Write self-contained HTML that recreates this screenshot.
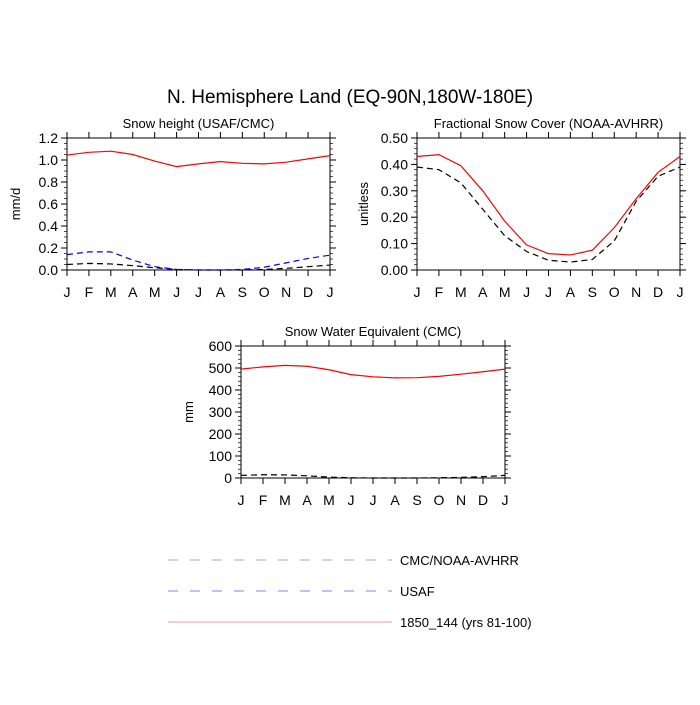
<!DOCTYPE html>
<html><head><meta charset="utf-8"><style>
body{margin:0;background:#fff}
text{font-family:"Liberation Sans",sans-serif;fill:#000}
</style></head><body>
<svg id="s" width="700" height="700" xmlns="http://www.w3.org/2000/svg">
<rect width="700" height="700" fill="#fff"/>
<text x="350" y="103" font-size="19" text-anchor="middle">N. Hemisphere Land (EQ-90N,180W-180E)</text>
<g>
<line x1="168" y1="560" x2="392" y2="560" stroke="#aaa" stroke-dasharray="10,12"/>
<text x="400" y="565" font-size="13">CMC/NOAA-AVHRR</text>
<line x1="168" y1="591" x2="392" y2="591" stroke="#8080ff" stroke-dasharray="10,12"/>
<text x="400" y="596" font-size="13">USAF</text>
<line x1="168" y1="622" x2="392" y2="622" stroke="#ffaaaa" stroke-width="1.2"/>
<text x="400" y="627" font-size="13">1850_144 (yrs 81-100)</text>
</g>
</svg>
<script>
const months = ["J","F","M","A","M","J","J","A","S","O","N","D","J"];
const snowHeightModel = [1.045,1.07,1.08,1.05,0.99,0.94,0.965,0.985,0.97,0.965,0.98,1.01,1.04];
const snowHeightUSAF = [0.14,0.165,0.165,0.09,0.03,0.005,0.0,0.0,0.005,0.025,0.065,0.105,0.135];
const snowHeightCMC = [0.05,0.06,0.055,0.04,0.02,0.005,0,0,0,0.005,0.015,0.03,0.045];
const snowCoverModel = [0.43,0.437,0.395,0.30,0.185,0.095,0.062,0.057,0.075,0.16,0.27,0.37,0.43];
const snowCoverObs = [0.39,0.38,0.33,0.23,0.13,0.07,0.037,0.03,0.04,0.11,0.26,0.355,0.39];
const sweModel = [495,505,512,508,492,470,460,455,456,462,472,483,495];
const sweObs = [12,15,14,10,4,1,0,0,0,1,3,6,12];
const ticks1 = ["0.0","0.2","0.4","0.6","0.8","1.0","1.2"];
const ticks2 = ["0.00","0.10","0.20","0.30","0.40","0.50"];
const ticks3 = ["0","100","200","300","400","500","600"];

const svg = document.getElementById('s');
const NS = "http://www.w3.org/2000/svg";
function mk(tag, attrs, parent){const e=document.createElementNS(NS,tag);for(const k in attrs)e.setAttribute(k,attrs[k]);parent.appendChild(e);return e;}

function panel(name, L, R, T, B, ymax, tickLabels, minorStep, title, ytitle, ytx, series){
  const g = mk('g',{},svg);
  
  
  const xs = i => L + (R-L)*i/(months.length-1);
  const ys = v => B - (B-T)*v/ymax;
  const fr = mk('rect',{x:L,y:T,width:R-L,height:B-T,fill:'none',stroke:'#000','stroke-width':1},g);
  
  
  const t = mk('text',{x:(L+R)/2,y:T-10,'font-size':13,'text-anchor':'middle'},g);
  t.textContent = title;
  
  
  const yt = mk('text',{x:ytx,y:(T+B)/2,'font-size':13,'text-anchor':'middle',transform:`rotate(-90 ${ytx} ${(T+B)/2})`},g);
  yt.textContent = ytitle;
  
  
  months.forEach((m,i)=>{
    const x = xs(i);
    mk('line',{x1:x,y1:B,x2:x,y2:B+6,stroke:'#000'},g);
    mk('line',{x1:x,y1:T,x2:x,y2:T-6,stroke:'#000'},g);
    const lb = mk('text',{x:x,y:B+27,'font-size':14,'text-anchor':'middle'},g);
    lb.textContent = m;
    
    
  });
  const n = tickLabels.length-1;
  tickLabels.forEach((lab,i)=>{
    const v = ymax*i/n, y = ys(v);
    mk('line',{x1:L,y1:y,x2:L-6,y2:y,stroke:'#000'},g);
    mk('line',{x1:R,y1:y,x2:R+6,y2:y,stroke:'#000'},g);
    const lb = mk('text',{x:L-9,y:y+5,'font-size':14,'text-anchor':'end'},g);
    lb.textContent = lab;
    
    
  });
  for(let v=0; v<=ymax+1e-9; v+=minorStep){
    const y = ys(v);
    mk('line',{x1:L,y1:y,x2:L-3,y2:y,stroke:'#000','stroke-width':0.7},g);
    mk('line',{x1:R,y1:y,x2:R+3,y2:y,stroke:'#000','stroke-width':0.7},g);
  }
  series.forEach(s=>{
    const p = mk('polyline',{points:s.data.map((v,i)=>xs(i)+','+ys(v)).join(' '),fill:'none',stroke:s.color,'stroke-width':1.2,'stroke-dasharray':s.dash||'none'},g);
    
    
  });
}
panel('panel-snow-height',67,330,138,270,1.2,ticks1,0.05,'Snow height (USAF/CMC)','mm/d',20,[
  {name:'line-cmc',data:snowHeightCMC,color:'#000',dash:'6,4'},
  {name:'line-usaf',data:snowHeightUSAF,color:'#00f',dash:'6,4'},
  {name:'line-model',data:snowHeightModel,color:'#f00'}]);
panel('panel-snow-cover',417,680,138,270,0.5,ticks2,0.02,'Fractional Snow Cover (NOAA-AVHRR)','unitless',368,[
  {name:'line-noaa',data:snowCoverObs,color:'#000',dash:'6,4'},
  {name:'line-model',data:snowCoverModel,color:'#f00'}]);
panel('panel-swe',241,505,346,478,600,ticks3,20,'Snow Water Equivalent (CMC)','mm',193,[
  {name:'line-cmc',data:sweObs,color:'#000',dash:'6,4'},
  {name:'line-model',data:sweModel,color:'#f00'}]);
</script>
</body></html>
